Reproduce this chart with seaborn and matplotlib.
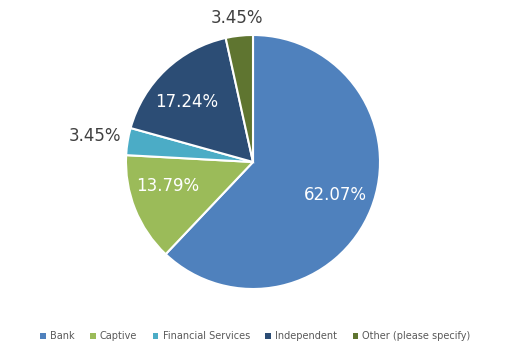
import numpy as np
import matplotlib
matplotlib.use('Agg')
import matplotlib.pyplot as plt
import seaborn as sns

# Data
categories = ['Bank', 'Captive', 'Financial Services', 'Independent', 'Other (please specify)']
shares = [62.07, 13.79, 3.45, 17.24, 3.45]
labels = ['62.07%', '13.79%', '3.45%', '17.24%', '3.45%']

# Style
sns.set_style('white')
plt.rcParams['font.family'] = ['DejaVu Sans']
colors = sns.color_palette(['#4F81BD', '#9BBB59', '#4BACC6', '#2C4D75', '#5F7530'])
label_dist = [0.70, 0.70, 1.26, 0.70, 1.14]
label_shift = [0, -6, 0, 4.5, 0]  # degrees, nudges off the wedge mid angle
label_color = ['white', 'white', '#404040', 'white', '#404040']

fig = plt.figure(figsize=(5.11, 3.53), dpi=100)
r_px, cx, cy = 127, 253, 162
ax = fig.add_axes([(cx - r_px) / 511, (353 - cy - r_px) / 353, 2 * r_px / 511, 2 * r_px / 353])

wedges, _ = ax.pie(shares, colors=colors, startangle=90, counterclock=False,
                   wedgeprops=dict(edgecolor='white', linewidth=1.5))
ax.set_xlim(-1, 1)
ax.set_ylim(-1, 1)
ax.set_aspect('auto')
ax.axis('off')

# percentage labels placed around each wedge's mid angle
for w, txt, d, s, c in zip(wedges, labels, label_dist, label_shift, label_color):
    ang = np.deg2rad((w.theta1 + w.theta2) / 2 + s)
    ax.text(d * np.cos(ang), d * np.sin(ang), txt, ha='center', va='center',
            fontsize=12, color=c, clip_on=False)

leg = fig.legend(wedges, categories, loc='center', bbox_to_anchor=(0.5, 0.048), ncol=5,
                 frameon=False, fontsize=7.0, handlelength=0.55, handleheight=0.55,
                 handletextpad=0.45, columnspacing=1.6, labelcolor='#595959')
for h in leg.legend_handles:
    h.set_edgecolor('none')

plt.savefig('out.png', dpi=100)
plt.close('all')
